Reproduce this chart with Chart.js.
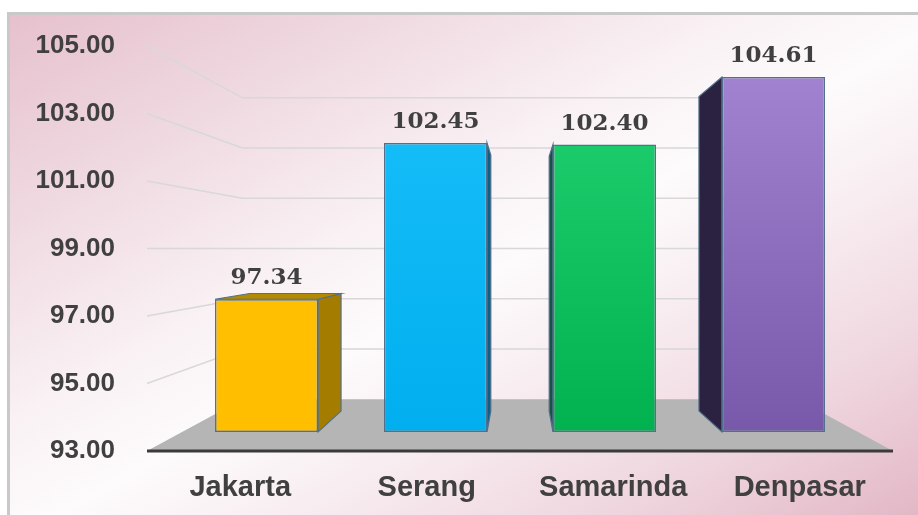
<!DOCTYPE html>
<html>
<head>
<meta charset="utf-8">
<script src="https://cdn.jsdelivr.net/npm/chart.js@4.4.1/dist/chart.umd.min.js"></script>
<style>
  html, body { margin: 0; padding: 0; background: #fff; }
  #wrap { position: relative; width: 918px; height: 515px; overflow: hidden; }
  #panel {
    position: absolute; left: 7px; top: 12px; right: -6px; bottom: -6px;
    border-top: 3px solid #c9c9c9; border-left: 3px solid #c9c9c9;
    background: linear-gradient(to bottom right, #e6c1cd 0%, #f0dbe2 22%, #f9f1f4 40%, #fdfbfc 52%, #f8eef2 64%, #efd6de 82%, #e2b6c4 100%);
  }
  canvas { position: absolute; left: 0; top: 0; }
</style>
</head>
<body>
<div id="wrap"><div id="panel"></div><canvas id="chart" width="918" height="515"></canvas></div>
<script>
// 데이터
const categories = ['Jakarta', 'Serang', 'Samarinda', 'Denpasar'];
const values = [97.34, 102.45, 102.40, 104.61];
const yTicks = [93, 95, 97, 99, 101, 103, 105];

// 막대 색
const faceTop = ['#ffc000', '#1ac1fa', '#24d474', '#a486d4'];
const faceBottom = ['#ffbf00', '#00adee', '#00b04e', '#7656a7'];
const sideColors = ['#a47c00', '#0d5f86', '#1b4f47', '#2a2240'];
const lidColors = ['#b48a00', '#1a7aa5', '#1c6a50', '#3b3058'];

// 원근 (소실점까지의 비율)
const VANISH_Y = 99;
const DEPTH_BAR_FRONT = 0.094;
const DEPTH_BAR_BACK = 0.197;
const DEPTH_WALL = 0.256;

const yMin = yTicks[0];
const yMax = yTicks[yTicks.length - 1];
const xMid = (categories.length - 1) / 2;
const sBar = 1 - DEPTH_BAR_FRONT;
const textColor = '#404040';
const sans = '"Liberation Sans", Arial, sans-serif';

const box3d = {
    id: 'box3d',
    beforeDatasetsDraw(chart) {
        const { ctx, chartArea: ca, scales } = chart;
        const vx = scales.xBar.getPixelForValue(xMid);
        const vy = scales.y.getPixelForValue(VANISH_Y);
        const proj = (x, y, f) => [vx + (1 - f) * (x - vx), vy + (1 - f) * (y - vy)];
        const y0 = scales.y.getPixelForValue(yMin);
        ctx.save();

        // 바닥
        const bl = proj(ca.left, y0, DEPTH_WALL);
        const br = proj(ca.right, y0, DEPTH_WALL);
        ctx.fillStyle = '#b5b5b5';
        ctx.beginPath();
        ctx.moveTo(ca.left, y0); ctx.lineTo(ca.right, y0);
        ctx.lineTo(br[0], br[1]); ctx.lineTo(bl[0], bl[1]);
        ctx.closePath(); ctx.fill();

        // 벽 격자
        ctx.strokeStyle = '#d8d8d8';
        ctx.lineWidth = 1.5;
        yTicks.slice(1).forEach(v => {
            const py = scales.y.getPixelForValue(v);
            const a = proj(ca.left, py, DEPTH_WALL);
            const b = proj(ca.right, py, DEPTH_WALL);
            ctx.beginPath();
            ctx.moveTo(ca.left, py); ctx.lineTo(a[0], a[1]); ctx.lineTo(b[0], b[1]);
            ctx.stroke();
        });

        // 앞 모서리
        ctx.strokeStyle = '#3b3b3b';
        ctx.lineWidth = 3;
        ctx.beginPath(); ctx.moveTo(ca.left, y0); ctx.lineTo(ca.right, y0); ctx.stroke();

        // 막대 옆면, 윗면
        const r = (1 - DEPTH_BAR_BACK) / (1 - DEPTH_BAR_FRONT);
        const back = (x, y) => [vx + r * (x - vx), vy + r * (y - vy)];
        const quad = (pts, fill) => {
            ctx.fillStyle = fill;
            ctx.beginPath();
            pts.forEach((p, k) => k ? ctx.lineTo(p[0], p[1]) : ctx.moveTo(p[0], p[1]));
            ctx.closePath(); ctx.fill(); ctx.stroke();
        };
        ctx.strokeStyle = '#52708c';
        ctx.lineWidth = 1.2;
        chart.getDatasetMeta(0).data.forEach((bar, i) => {
            const { x, y, base, width } = bar.getProps(['x', 'y', 'base', 'width'], true);
            const L = x - width / 2, R = x + width / 2;
            if (R < vx) quad([[R, y], [R, base], back(R, base), back(R, y)], sideColors[i]);
            if (L > vx) quad([[L, y], [L, base], back(L, base), back(L, y)], sideColors[i]);
            if (y > vy) quad([[L, y], [R, y], back(R, y), back(L, y)], lidColors[i]);
        });
        ctx.restore();
    },
    afterDatasetsDraw(chart) {
        const { ctx } = chart;
        ctx.save();
        ctx.font = 'bold 23px "DejaVu Serif", serif';
        ctx.fillStyle = textColor;
        ctx.textAlign = 'center';
        ctx.textBaseline = 'alphabetic';
        chart.getDatasetMeta(0).data.forEach((bar, i) => {
            ctx.fillText(values[i].toFixed(2), bar.x, bar.y - 15);
        });
        ctx.restore();
    }
};

new Chart(document.getElementById('chart'), {
    type: 'bar',
    data: {
        labels: categories,
        datasets: [{
            data: values.map((v, i) => ({ x: i, y: v })),
            xAxisID: 'xBar',
            yAxisID: 'yBar',
            base: yMin,
            backgroundColor: (c) => {
                const a = c.chart.chartArea;
                const i = c.dataIndex;
                if (!a) return faceBottom[i];
                const g = c.chart.ctx.createLinearGradient(0, a.top, 0, a.bottom);
                g.addColorStop(0, faceTop[i]);
                g.addColorStop(1, faceBottom[i]);
                return g;
            },
            borderColor: '#52708c',
            borderWidth: 1.5,
            borderSkipped: false,
            categoryPercentage: 1,
            barPercentage: 0.61
        }]
    },
    options: {
        responsive: false,
        animation: false,
        devicePixelRatio: 1,
        layout: { padding: { top: 46, right: 25, left: 0, bottom: 0 } },
        plugins: { legend: { display: false }, tooltip: { enabled: false } },
        scales: {
            x: {
                type: 'category',
                labels: categories,
                offset: true,
                grid: { display: false },
                border: { display: false },
                ticks: { color: textColor, padding: 12, font: { family: sans, size: 29, weight: 'bold' } },
                afterFit: s => { s.height = 64; }
            },
            y: {
                type: 'linear',
                position: 'left',
                min: yMin,
                max: yMax,
                grid: { display: false },
                border: { display: false },
                afterBuildTicks: s => { s.ticks = yTicks.map(v => ({ value: v })); },
                ticks: {
                    color: textColor, padding: 24,
                    font: { family: sans, size: 26, weight: 'bold' },
                    callback: v => Number(v).toFixed(2)
                },
                afterFit: s => { s.width = 147; }
            },
            xBar: {
                type: 'linear', axis: 'x', position: 'bottom', display: false,
                offset: false, bounds: 'data',
                grid: { offset: false },
                min: xMid - categories.length / 2 / sBar,
                max: xMid + categories.length / 2 / sBar,
                afterBuildTicks: s => { s.ticks = categories.map((c, i) => ({ value: i })); }
            },
            yBar: {
                type: 'linear', axis: 'y', position: 'left', display: false,
                bounds: 'data',
                min: VANISH_Y + (yMin - VANISH_Y) / sBar,
                max: VANISH_Y + (yMax - VANISH_Y) / sBar
            }
        }
    },
    plugins: [box3d]
});
</script>
</body>
</html>
